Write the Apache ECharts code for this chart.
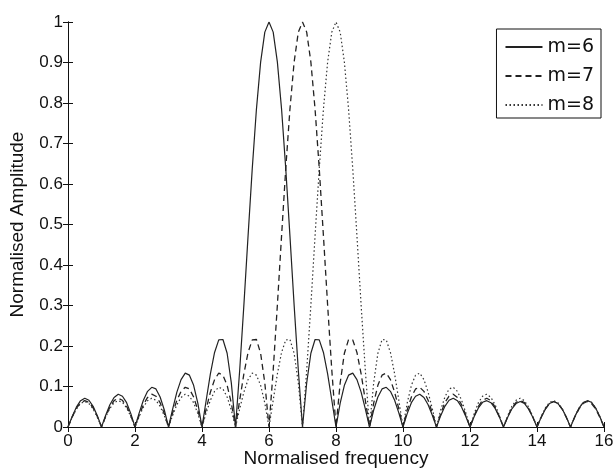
<!DOCTYPE html>
<html>
<head>
<meta charset="utf-8">
<script src="https://cdn.jsdelivr.net/npm/echarts@6/dist/echarts.min.js"></script>
<style>
  html, body { margin: 0; padding: 0; background: #fff; }
  #chart { width: 616px; height: 469px; }
</style>
</head>
<body>
<div id="chart"></div>
<script>
// frequency grid, step 1/8
const freqStep = 0.125;
const freq = [];
for (let i = 0; i <= 128; i++) freq.push(i * freqStep);

const xTicks = [0, 2, 4, 6, 8, 10, 12, 14, 16];
const yTicks = [0, 0.1, 0.2, 0.3, 0.4, 0.5, 0.6, 0.7, 0.8, 0.9, 1];
const seriesNames = ["m=6", "m=7", "m=8"];

// amplitude values
const ampM6 = [
  0,
  0.026, 0.049, 0.065, 0.071, 0.066, 0.051, 0.028, 0,
  0.029, 0.055, 0.073, 0.081, 0.076, 0.060, 0.033, 0,
  0.035, 0.066, 0.088, 0.098, 0.094, 0.074, 0.042, 0,
  0.045, 0.086, 0.117, 0.133, 0.128, 0.103, 0.059, 0,
  0.066, 0.131, 0.184, 0.215, 0.216, 0.182, 0.109, 0,
  0.140, 0.301, 0.472, 0.638, 0.785, 0.901, 0.975, 1,
  0.975, 0.901, 0.785, 0.638, 0.472, 0.301, 0.140, 0,
  0.109, 0.182, 0.216, 0.215, 0.184, 0.131, 0.066, 0,
  0.059, 0.103, 0.128, 0.133, 0.117, 0.086, 0.045, 0,
  0.042, 0.074, 0.094, 0.098, 0.088, 0.066, 0.035, 0,
  0.033, 0.060, 0.076, 0.081, 0.073, 0.055, 0.029, 0,
  0.028, 0.051, 0.066, 0.071, 0.065, 0.049, 0.026, 0,
  0.026, 0.047, 0.061, 0.065, 0.060, 0.046, 0.025, 0,
  0.024, 0.045, 0.058, 0.063, 0.058, 0.044, 0.024, 0,
  0.024, 0.044, 0.058, 0.063, 0.058, 0.045, 0.024, 0,
  0.025, 0.046, 0.060, 0.065, 0.061, 0.047, 0.026, 0
];
const ampM7 = [
  0,
  0.025, 0.046, 0.060, 0.065, 0.061, 0.047, 0.026, 0,
  0.026, 0.049, 0.065, 0.071, 0.066, 0.051, 0.028, 0,
  0.029, 0.055, 0.073, 0.081, 0.076, 0.060, 0.033, 0,
  0.035, 0.066, 0.088, 0.098, 0.094, 0.074, 0.042, 0,
  0.045, 0.086, 0.117, 0.133, 0.128, 0.103, 0.059, 0,
  0.066, 0.131, 0.184, 0.215, 0.216, 0.182, 0.109, 0,
  0.140, 0.301, 0.472, 0.638, 0.785, 0.901, 0.975, 1,
  0.975, 0.901, 0.785, 0.638, 0.472, 0.301, 0.140, 0,
  0.109, 0.182, 0.216, 0.215, 0.184, 0.131, 0.066, 0,
  0.059, 0.103, 0.128, 0.133, 0.117, 0.086, 0.045, 0,
  0.042, 0.074, 0.094, 0.098, 0.088, 0.066, 0.035, 0,
  0.033, 0.060, 0.076, 0.081, 0.073, 0.055, 0.029, 0,
  0.028, 0.051, 0.066, 0.071, 0.065, 0.049, 0.026, 0,
  0.026, 0.047, 0.061, 0.065, 0.060, 0.046, 0.025, 0,
  0.024, 0.045, 0.058, 0.063, 0.058, 0.044, 0.024, 0,
  0.024, 0.044, 0.058, 0.063, 0.058, 0.045, 0.024, 0
];
const ampM8 = [
  0,
  0.024, 0.044, 0.058, 0.063, 0.058, 0.045, 0.024, 0,
  0.025, 0.046, 0.060, 0.065, 0.061, 0.047, 0.026, 0,
  0.026, 0.049, 0.065, 0.071, 0.066, 0.051, 0.028, 0,
  0.029, 0.055, 0.073, 0.081, 0.076, 0.060, 0.033, 0,
  0.035, 0.066, 0.088, 0.098, 0.094, 0.074, 0.042, 0,
  0.045, 0.086, 0.117, 0.133, 0.128, 0.103, 0.059, 0,
  0.066, 0.131, 0.184, 0.215, 0.216, 0.182, 0.109, 0,
  0.140, 0.301, 0.472, 0.638, 0.785, 0.901, 0.975, 1,
  0.975, 0.901, 0.785, 0.638, 0.472, 0.301, 0.140, 0,
  0.109, 0.182, 0.216, 0.215, 0.184, 0.131, 0.066, 0,
  0.059, 0.103, 0.128, 0.133, 0.117, 0.086, 0.045, 0,
  0.042, 0.074, 0.094, 0.098, 0.088, 0.066, 0.035, 0,
  0.033, 0.060, 0.076, 0.081, 0.073, 0.055, 0.029, 0,
  0.028, 0.051, 0.066, 0.071, 0.065, 0.049, 0.026, 0,
  0.026, 0.047, 0.061, 0.065, 0.060, 0.046, 0.025, 0,
  0.025, 0.046, 0.060, 0.065, 0.061, 0.047, 0.026, 0
];

const FONT = "Liberation Sans";
const toPairs = (ys) => freq.map((f, i) => [f, ys[i]]);

let chart = echarts.init(document.getElementById("chart"), null, { renderer: "canvas" });

// axis common bits
const axisLineStyle = { show: true, lineStyle: { color: "#111", width: 1 } };
const tickInside = { show: true, inside: true, length: 5, lineStyle: { color: "#111" } };

let option = {
  animation: false,
  backgroundColor: "#fff",
  grid: { left: 68, right: 12, top: 22, bottom: 42, outerBoundsMode: "none" },
  legend: {
    orient: "vertical",
    right: 15,
    top: 29,
    data: seriesNames,
    itemWidth: 37,
    itemHeight: 20,
    itemGap: 9,
    padding: [8, 7, 3, 8],
    borderColor: "#111",
    borderWidth: 1,
    backgroundColor: "#fff",
    // hide the round marker, keep only the line sample
    itemStyle: { opacity: 0 },
    textStyle: { fontFamily: "DejaVu Sans", fontSize: 19, color: "#111", lineHeight: 20 }
  },
  xAxis: [
    {
      type: "value",
      min: xTicks[0],
      max: xTicks[xTicks.length - 1],
      interval: 2,
      name: "Normalised frequency",
      nameLocation: "middle",
      nameGap: 22,
      nameMoveOverlap: false,
      nameTextStyle: { fontFamily: FONT, fontSize: 19, color: "#111" },
      axisLine: axisLineStyle,
      axisTick: tickInside,
      axisLabel: { fontFamily: FONT, fontSize: 17, color: "#111", margin: 6 },
      splitLine: { show: false }
    },
    {
      type: "value",
      position: "top",
      min: xTicks[0],
      max: xTicks[xTicks.length - 1],
      interval: 2,
      axisLine: axisLineStyle,
      axisTick: tickInside,
      axisLabel: { show: false },
      splitLine: { show: false }
    }
  ],
  yAxis: [
    {
      type: "value",
      min: yTicks[0],
      max: yTicks[yTicks.length - 1],
      interval: 0.1,
      name: "Normalised Amplitude",
      nameLocation: "middle",
      nameGap: 41,
      nameMoveOverlap: false,
      nameTextStyle: { fontFamily: FONT, fontSize: 19, color: "#111" },
      axisLine: axisLineStyle,
      axisTick: tickInside,
      axisLabel: { fontFamily: FONT, fontSize: 17, color: "#111", margin: 5 },
      splitLine: { show: false }
    },
    {
      type: "value",
      position: "right",
      min: yTicks[0],
      max: yTicks[yTicks.length - 1],
      interval: 0.1,
      axisLine: axisLineStyle,
      axisTick: tickInside,
      axisLabel: { show: false },
      splitLine: { show: false }
    }
  ],
  series: [
    {
      name: seriesNames[0],
      type: "line",
      data: toPairs(ampM6),
      symbol: "none",
      lineStyle: { color: "#222", width: 1.2, type: "solid" },
      itemStyle: { color: "#222" }
    },
    {
      name: seriesNames[1],
      type: "line",
      data: toPairs(ampM7),
      symbol: "none",
      lineStyle: { color: "#222", width: 1.3, type: [6, 4] },
      itemStyle: { color: "#222" }
    },
    {
      name: seriesNames[2],
      type: "line",
      data: toPairs(ampM8),
      symbol: "none",
      lineStyle: { color: "#333", width: 1.2, type: [1.5, 2.5] },
      itemStyle: { color: "#333" }
    }
  ]
};
chart.setOption(option);
</script>
</body>
</html>
